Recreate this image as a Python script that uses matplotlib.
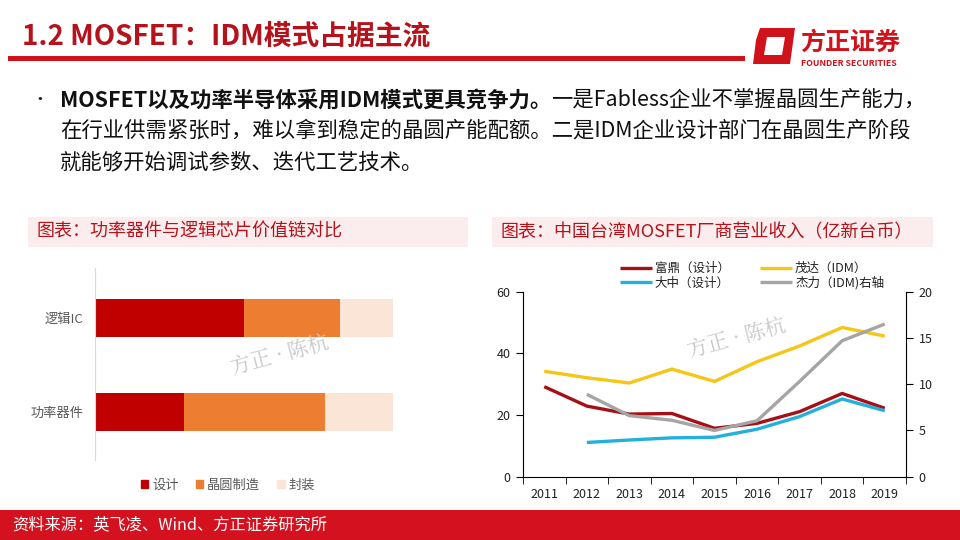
import matplotlib
matplotlib.use("Agg")
import matplotlib.pyplot as plt
from matplotlib.patches import Rectangle, Polygon
from matplotlib.lines import Line2D
import numpy as np

plt.rcParams['font.family'] = ['Noto Sans CJK SC', 'DejaVu Sans']

# ---------------- data ----------------
bar_categories = ["功率器件", "逻辑IC"]
bar_segments = ["设计", "晶圆制造", "封装"]
design_share = [30, 50]
fab_share = [47, 32]
package_share = [23, 18]

years = ["2011", "2012", "2013", "2014", "2015", "2016", "2017", "2018", "2019"]
fuding = [29.2, 22.9, 20.3, 20.5, 15.7, 17.3, 21.1, 27.0, 22.2]
maoda = [34.2, 32.1, 30.4, 34.9, 30.9, 37.3, 42.4, 48.4, 45.6]
dazhong = [None, 11.1, 11.9, 12.6, 12.8, 15.4, 19.5, 25.2, 21.4]
jieli = [None, 8.9, 6.6, 6.1, 5.0, 6.05, 10.3, 14.7, 16.5]
left_ticks = [0, 20, 40, 60]
right_ticks = [0, 5, 10, 15, 20]

W, H = 960, 540
fig = plt.figure(figsize=(9.6, 5.4), dpi=100)
fig.patch.set_facecolor("white")

def fx(x):
    return x / W

def fy(y):
    return 1 - y / H

TITLE_RED = "#B5121B"

# ---------------- header ----------------
fig.text(fx(22), fy(37), "1.2 MOSFET：IDM模式占据主流", fontsize=20, fontweight="bold",
         color=TITLE_RED, va="center", ha="left")
fig.add_artist(Rectangle((fx(8), fy(61)), fx(737), 5 / H, transform=fig.transFigure,
                         color="#D0121B", lw=0))
# logo icon
icon_outer = Polygon([[fx(760), fy(28)], [fx(795), fy(28)], [fx(790), fy(64)], [fx(753), fy(64)], [fx(756), fy(40)]],
                     closed=True, transform=fig.transFigure, color="#D0121B", lw=0)
fig.add_artist(icon_outer)
icon_inner = Polygon([[fx(767), fy(37)], [fx(785), fy(37)], [fx(782), fy(55)], [fx(764), fy(55)]],
                     closed=True, transform=fig.transFigure, color="white", lw=0)
fig.add_artist(icon_inner)
fig.text(fx(800), fy(43), "方正证券", fontsize=18, fontweight="bold", color="#D0121B",
         va="center", ha="left")
fig.text(fx(801), fy(63), "FOUNDER SECURITIES", fontsize=6.3, fontweight="bold", color="#D0121B",
         va="center", ha="left")

# ---------------- bullet text ----------------
fs_body = 15.4
fig.text(fx(31), fy(100), "•", fontsize=12, color="#1a1a1a", va="center", ha="left")
t1 = fig.text(fx(60), fy(100), "MOSFET以及功率半导体采用IDM模式更具竞争力。", fontsize=fs_body,
              fontweight="bold", color="#111111", va="center", ha="left")
renderer = fig.canvas.get_renderer()
bb = t1.get_window_extent(renderer=renderer)
fig.text(bb.x1 / fig.bbox.width, fy(100), "一是Fabless企业不掌握晶圆生产能力，", fontsize=fs_body,
         color="#111111", va="center", ha="left")
fig.text(fx(60), fy(131), "在行业供需紧张时，难以拿到稳定的晶圆产能配额。二是IDM企业设计部门在晶圆生产阶段",
         fontsize=fs_body, color="#111111", va="center", ha="left")
fig.text(fx(60), fy(162), "就能够开始调试参数、迭代工艺技术。", fontsize=fs_body, color="#111111",
         va="center", ha="left")

# ---------------- section headers ----------------
for x0, x1, label in [(28, 468, "图表：功率器件与逻辑芯片价值链对比"),
                      (492, 933, "图表：中国台湾MOSFET厂商营业收入（亿新台币）")]:
    fig.add_artist(Rectangle((fx(x0), fy(247)), fx(x1 - x0), 30 / H, transform=fig.transFigure,
                             color="#FBEDED", lw=0))
    fig.text(fx(x0 + 9), fy(232), label, fontsize=13, color="#B5121B", va="center", ha="left")

# ---------------- left chart: stacked bars ----------------
axL = fig.add_axes([fx(94.7), fy(460), fx(393.3 - 94.7), (460 - 268) / H])
ypos = np.arange(len(bar_categories))
colors_bar = ["#C00000", "#ED7D31", "#FBE5D6"]
left = np.zeros(len(bar_categories))
for vals, col, lab in zip([design_share, fab_share, package_share], colors_bar, bar_segments):
    axL.barh(ypos, vals, left=left, height=0.40, color=col, label=lab, edgecolor="none")
    left += np.array(vals)
axL.set_xlim(0, 100)
axL.set_ylim(-0.51, 1.53)
axL.set_yticks(ypos)
axL.set_yticklabels(bar_categories, fontsize=9.5, color="#595959")
axL.tick_params(axis="y", length=0, pad=8)
axL.set_xticks([])
for s in ["top", "right", "bottom"]:
    axL.spines[s].set_visible(False)
axL.spines["left"].set_color("#D9D9D9")
axL.patch.set_alpha(0)
handles = [Rectangle((0, 0), 1, 1, color=c) for c in colors_bar]
fig.legend(handles, bar_segments, loc="center", bbox_to_anchor=(fx(228), fy(485)), ncol=3,
           frameon=False, fontsize=9.5, handlelength=0.55, handleheight=0.55, handletextpad=0.3,
           columnspacing=1.3, labelcolor="#595959")
fig.text(fx(280), fy(355), "方正 · 陈杭", fontsize=15, color="#C8C8C8", rotation=15,
         va="center", ha="center", family=["Noto Serif CJK SC", "Noto Sans CJK SC", "DejaVu Sans"])

# ---------------- right chart: lines ----------------
axR = fig.add_axes([fx(523), fy(476.7), fx(906 - 523), (476.7 - 291.7) / H])
x = np.arange(len(years))

def arr(v):
    return np.array([np.nan if a is None else a for a in v], dtype=float)

lw = 2.4
l1, = axR.plot(x, arr(fuding), color="#A50F15", lw=lw, label="富鼎（设计）", solid_capstyle="butt")
l2, = axR.plot(x, arr(maoda), color="#F5C518", lw=lw, label="茂达（IDM）", solid_capstyle="butt")
l3, = axR.plot(x, arr(dazhong), color="#23B0DC", lw=lw, label="大中（设计）", solid_capstyle="butt")
axR.set_xlim(-0.5, len(years) - 0.5)
axR.set_ylim(0, 60)
axR.set_yticks(left_ticks)
axR.set_xticks(x)
axR.set_xticklabels(years)
axR.set_xticks(np.arange(-0.5, len(years), 1.0), minor=True)
axR.tick_params(axis="x", which="major", length=0, labelsize=9, pad=8, labelcolor="#222222")
axR.tick_params(axis="x", which="minor", length=5, direction="out", color="black")
axR.tick_params(axis="y", length=5, direction="out", labelsize=9, labelcolor="#222222", pad=4)
axR.spines["top"].set_visible(False)
axR.spines["right"].set_visible(False)
axR.patch.set_alpha(0)

axR2 = axR.twinx()
l4, = axR2.plot(x, arr(jieli), color="#A5A5A5", lw=lw, label="杰力（IDM)右轴", solid_capstyle="butt")
axR2.set_ylim(0, 20)
axR2.set_yticks(right_ticks)
axR2.tick_params(axis="y", length=5, direction="out", labelsize=9, labelcolor="#222222", pad=4)
axR2.spines["top"].set_visible(False)
axR2.spines["left"].set_visible(False)
axR2.spines["bottom"].set_visible(False)

fig.legend([l1, l3, l2, l4], ["富鼎（设计）", "大中（设计）", "茂达（IDM）", "杰力（IDM)右轴"],
           loc="center", bbox_to_anchor=(fx(752), fy(276)), ncol=2, frameon=False, fontsize=9,
           handlelength=2.6, handletextpad=0.2, columnspacing=2.4, labelspacing=0.1,
           labelcolor="#222222")
fig.text(fx(737), fy(338), "方正 · 陈杭", fontsize=15, color="#C8C8C8", rotation=15,
         va="center", ha="center", family=["Noto Serif CJK SC", "Noto Sans CJK SC", "DejaVu Sans"])

# ---------------- footer ----------------
fig.add_artist(Rectangle((0, 0), 1, 30 / H, transform=fig.transFigure, color="#D4111E", lw=0))
fig.text(fx(12), fy(525), "资料来源：英飞凌、Wind、方正证券研究所", fontsize=11.7, color="white",
         va="center", ha="left")

fig.savefig("out.png", dpi=100)
